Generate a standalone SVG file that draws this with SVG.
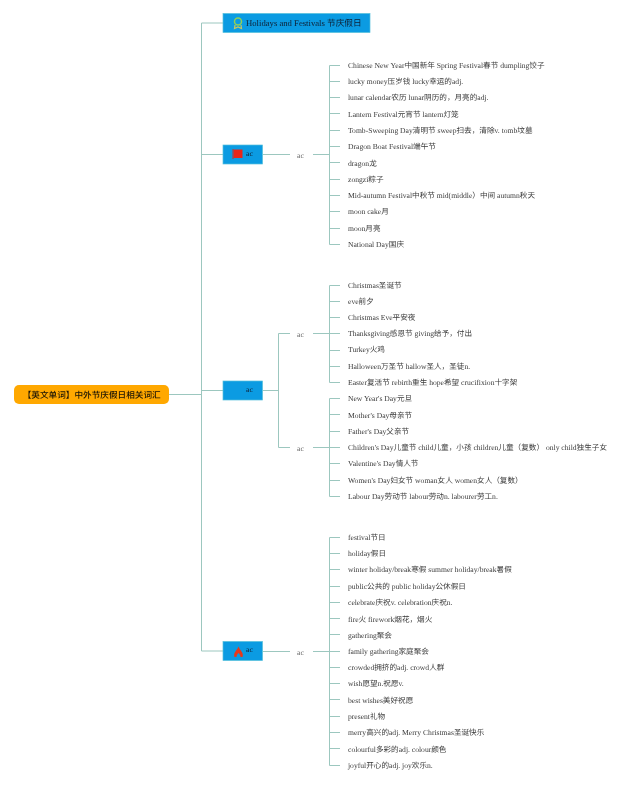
<svg xmlns="http://www.w3.org/2000/svg" width="640" height="787" viewBox="0 0 640 787">
<defs><filter id="soft" x="-2%" y="-2%" width="104%" height="104%" color-interpolation-filters="sRGB"><feGaussianBlur stdDeviation="0.25"/></filter></defs>
<style>
text{font-family:"Liberation Serif","Noto Sans CJK SC",serif;text-rendering:geometricPrecision}
.t{filter:url(#soft)}
.l{fill:#3a3a3a;font-size:7.620px}
.a{fill:#666;font-size:7.620px}
.n{fill:#0f1f33;font-size:7.620px}
.b{fill:#0b9be2;stroke:#56c0dc;stroke-width:.7}
#connectors path{fill:none;stroke:#9cc7bf;stroke-width:1}
</style>
<rect width="640" height="787" fill="#fff"/>
<g id="connectors">
<path d="M169 394.500H201.500M223 23H201.500V651H223M201.500 154.500H223M201.500 390.500H223"/>
<path d="M263 154.500H290M313 154.500H329.500M340 65.500H329.500V244.500H340M329.500 81.500H340M329.500 97.500H340M329.500 113.500H340M329.500 130.500H340M329.500 146.500H340M329.500 162.500H340M329.500 179.500H340M329.500 195.500H340M329.500 211.500H340M329.500 228.500H340"/>
<path d="M263 390.500H278.500M290 333.500H278.500V447.500H290M313 333.500H329.500M313 447.500H329.500"/>
<path d="M340 285.500H329.500V382.500H340M329.500 301.500H340M329.500 317.500H340M329.500 333.500H340M329.500 350.500H340M329.500 366.500H340"/>
<path d="M340 398.500H329.500V496.500H340M329.500 414.500H340M329.500 431.500H340M329.500 447.500H340M329.500 463.500H340M329.500 480.500H340"/>
<path d="M263 651.500H290M313 651.500H329.500M340 537.500H329.500V765.500H340M329.500 553.500H340M329.500 569.500H340M329.500 586.500H340M329.500 602.500H340M329.500 618.500H340M329.500 634.500H340M329.500 651.500H340M329.500 667.500H340M329.500 683.500H340M329.500 699.500H340M329.500 716.500H340M329.500 732.500H340M329.500 748.500H340"/>
</g>
<g id="root" class="t"><rect x="14" y="385" width="155" height="19" rx="5" fill="#ffa800"/><text x="22.700" y="398" font-size="8.650" font-weight="500" fill="#1a1405">【英文单词】中外节庆假日相关词汇</text></g>
<g id="n-holidays" class="t"><rect class="b" x="223" y="13.500" width="147" height="19"/>
<circle cx="238" cy="21.500" r="3.500" fill="none" stroke="#8fcf5a" stroke-width="1.500"/><path d="M235 25L234.500 28.500L238 27L241.500 28.500L241 25" fill="none" stroke="#c8c860" stroke-width="1.200"/>
<text x="246" y="26" font-size="8.670" fill="#0f1f33">Holidays and Festivals 节庆假日</text></g>
<g id="n-chinese" class="t"><rect class="b" x="223" y="145" width="39.500" height="19"/>
<rect x="233.500" y="149.500" width="9" height="8.500" fill="#e8261a"/><path d="M233 149V159" stroke="#c03030" stroke-width="1"/>
<text class="n" x="246" y="155.500">ac</text></g>
<g id="n-western" class="t"><rect class="b" x="223" y="381" width="39.500" height="19"/><text class="n" x="246" y="391.500">ac</text></g>
<g id="n-general" class="t"><rect class="b" x="223" y="641.500" width="39.500" height="19"/>
<path d="M234.500 657C233 652.500 236.500 651.500 238.500 646.500C240.500 651.500 244 652.500 242.500 657L240.500 657C240.500 655 239.500 654 238.500 653C237.500 654 236.500 655 236.500 657Z" fill="#e8381a"/>
<text class="n" x="246" y="651.500">ac</text></g>
<g id="sub-ac" class="t">
<text class="a" x="297" y="158">ac</text><text class="a" x="297" y="337">ac</text><text class="a" x="297" y="451">ac</text><text class="a" x="297" y="655">ac</text>
</g>
<g id="leaves-chinese" class="t">
<text class="l" x="348" y="68.400">Chinese New Year中国新年 Spring Festival春节 dumpling饺子</text>
<text class="l" x="348" y="84.400">lucky money压岁钱 lucky幸运的adj.</text>
<text class="l" x="348" y="100.400">lunar calendar农历 lunar阴历的，月亮的adj.</text>
<text class="l" x="348" y="116.900">Lantern Festival元宵节 lantern灯笼</text>
<text class="l" x="348" y="133.400">Tomb-Sweeping Day清明节 sweep扫去，清除v. tomb坟墓</text>
<text class="l" x="348" y="149.400">Dragon Boat Festival端午节</text>
<text class="l" x="348" y="165.900">dragon龙</text>
<text class="l" x="348" y="182.400">zongzi粽子</text>
<text class="l" x="348" y="198.400">Mid-autumn Festival中秋节 mid(middle）中间 autumn秋天</text>
<text class="l" x="348" y="214.400">moon cake月</text>
<text class="l" x="348" y="231.400">moon月亮</text>
<text class="l" x="348" y="247.400">National Day国庆</text>
</g>
<g id="leaves-western-1" class="t">
<text class="l" x="348" y="287.900">Christmas圣诞节</text>
<text class="l" x="348" y="303.900">eve前夕</text>
<text class="l" x="348" y="320.400">Christmas Eve平安夜</text>
<text class="l" x="348" y="336.400">Thanksgiving感恩节 giving给予，付出</text>
<text class="l" x="348" y="352.400">Turkey火鸡</text>
<text class="l" x="348" y="369.400">Halloween万圣节 hallow圣人，圣徒n.</text>
<text class="l" x="348" y="385.400">Easter复活节 rebirth重生 hope希望 crucifixion十字架</text>
</g>
<g id="leaves-western-2" class="t">
<text class="l" x="348" y="401.400">New Year's Day元旦</text>
<text class="l" x="348" y="417.900">Mother's Day母亲节</text>
<text class="l" x="348" y="434.400">Father's Day父亲节</text>
<text class="l" x="348" y="450.400">Children's Day儿童节 child儿童，小孩 children儿童（复数） only child独生子女</text>
<text class="l" x="348" y="466.400">Valentine's Day情人节</text>
<text class="l" x="348" y="482.900">Women's Day妇女节 woman女人 women女人（复数）</text>
<text class="l" x="348" y="499.400">Labour Day劳动节 labour劳动n. labourer劳工n.</text>
</g>
<g id="leaves-general" class="t">
<text class="l" x="348" y="540.400">festival节日</text>
<text class="l" x="348" y="556.400">holiday假日</text>
<text class="l" x="348" y="572.400">winter holiday/break寒假 summer holiday/break暑假</text>
<text class="l" x="348" y="589.400">public公共的 public holiday公休假日</text>
<text class="l" x="348" y="605.400">celebrate庆祝v. celebration庆祝n.</text>
<text class="l" x="348" y="621.900">fire火 firework烟花，烟火</text>
<text class="l" x="348" y="637.900">gathering聚会</text>
<text class="l" x="348" y="654.400">family gathering家庭聚会</text>
<text class="l" x="348" y="670.400">crowded拥挤的adj. crowd人群</text>
<text class="l" x="348" y="686.400">wish愿望n.祝愿v.</text>
<text class="l" x="348" y="703.400">best wishes美好祝愿</text>
<text class="l" x="348" y="719.400">present礼物</text>
<text class="l" x="348" y="735.400">merry高兴的adj. Merry Christmas圣诞快乐</text>
<text class="l" x="348" y="751.900">colourful多彩的adj. colour颜色</text>
<text class="l" x="348" y="768.400">joyful开心的adj. joy欢乐n.</text>
</g>
</svg>
